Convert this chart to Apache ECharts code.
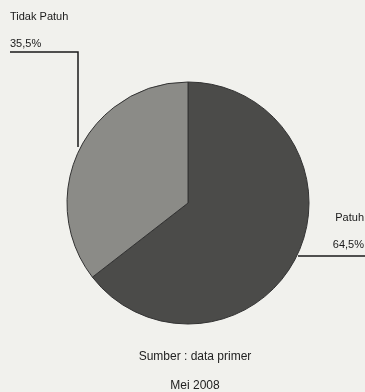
<!DOCTYPE html>
<html>
<head>
<meta charset="utf-8">
<script src="https://cdn.jsdelivr.net/npm/echarts@6/dist/echarts.min.js"></script>
<style>
html, body { margin: 0; padding: 0; background: #f1f1ed; }
#main { width: 365px; height: 392px; }
</style>
</head>
<body>
<div id="main"></div>
<script>
// data
var categories = ['Patuh', 'Tidak Patuh'];
var values = [64.5, 35.5];
var sliceColors = ['#4b4b49', '#8b8b87'];
var sourceLines = ['Sumber : data primer', 'Mei 2008'];

var fontFam = '"Liberation Sans", Arial, sans-serif';

var pieData = [];
for (var i = 0; i < categories.length; i++) {
    pieData.push({ name: categories[i], value: values[i], itemStyle: { color: sliceColors[i] } });
}

var myChart = echarts.init(document.getElementById('main'));
var option = {
    backgroundColor: '#f1f1ed',
    animation: false,
    title: [{
        text: sourceLines[0],
        left: 190,
        top: 346,
        textAlign: 'center',
        textStyle: { fontFamily: fontFam, fontSize: 12, fontWeight: 'normal', color: '#222' }
    }, {
        text: sourceLines[1],
        left: 190,
        top: 375,
        textAlign: 'center',
        textStyle: { fontFamily: fontFam, fontSize: 12, fontWeight: 'normal', color: '#222' }
    }],
    series: [{
        type: 'pie',
        center: [188, 203],
        radius: 121,
        startAngle: 90,
        clockwise: true,
        itemStyle: { borderColor: '#333', borderWidth: 1 },
        label: {
            show: true,
            overflow: 'none',
            width: 200,
            formatter: function (p) {
                return '{n|' + p.name + '}\n{v|' + String(p.value).replace('.', ',') + '%}';
            },
            rich: {
                n: { fontFamily: fontFam, fontSize: 11, color: '#1a1a1a', lineHeight: 27 },
                v: { fontFamily: fontFam, fontSize: 11, color: '#1a1a1a', lineHeight: 27 }
            }
        },
        labelLine: { show: true, lineStyle: { color: '#1a1a1a', width: 1.5 } },
        labelLayout: function (params) {
            if (params.dataIndex === 1) {
                return {
                    x: 10, y: 3, align: 'left', verticalAlign: 'top',
                    labelLinePoints: [[78, 147], [78, 52], [10, 52]]
                };
            }
            return {
                x: 364, y: 204, align: 'right', verticalAlign: 'top',
                labelLinePoints: [[298, 256], [365, 256]]
            };
        },
        emphasis: { disabled: true },
        data: pieData
    }]
};
myChart.setOption(option);

window.onresize = function () {
    myChart.resize();
};
</script>
</body>
</html>
